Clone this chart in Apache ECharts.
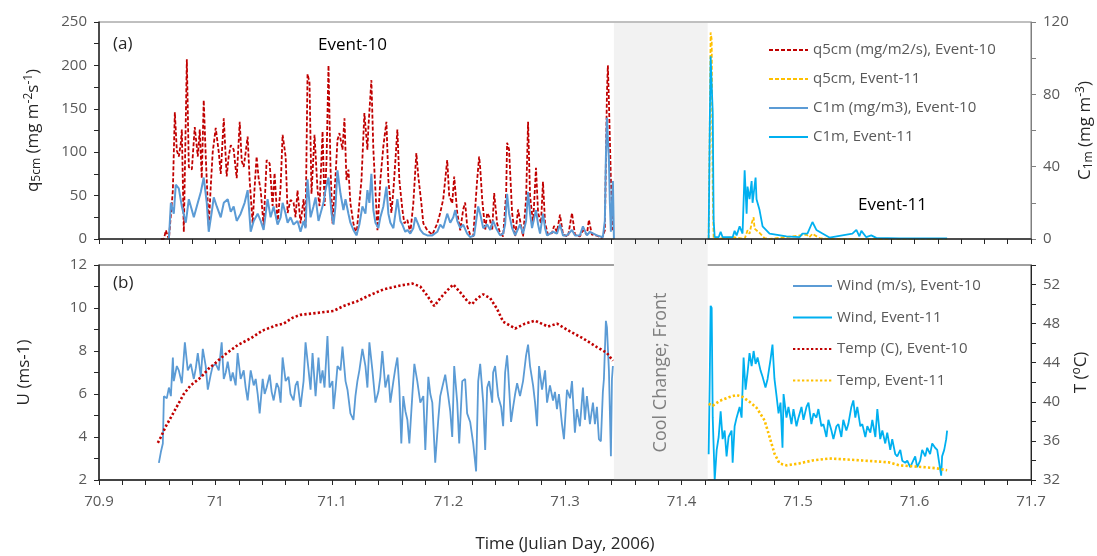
<!DOCTYPE html>
<html>
<head>
<meta charset="utf-8">
<script src="https://cdn.jsdelivr.net/npm/echarts@6/dist/echarts.min.js"></script>
<style>
  html, body { margin: 0; padding: 0; background: #fff; }
  #chart { width: 1097px; height: 556px; }
</style>
</head>
<body>
<div id="chart"></div>
<script>
// ---- data (time in Julian day, 2006) ----
const frontBand = [71.342, 71.4225];

// (a) q5cm, mg m-2 s-1 (left axis)
const q5cmE10 = [
  [70.9531,0],[70.9557,0],[70.9574,10],[70.9591,3],[70.9600,0],[70.9617,0],[70.9634,56],[70.9651,146],[70.9668,102],[70.9685,95],
  [70.9702,110],[70.9711,126],[70.9728,8],[70.9754,207],[70.9771,83],[70.9797,80],[70.9822,129],[70.9848,95],[70.9865,126],[70.9882,70],
  [70.9899,160],[70.9916,96],[70.9942,14],[70.9959,60],[70.9976,100],[71.0002,128],[71.0028,100],[71.0045,75],[71.0071,139],[71.0096,72],
  [71.0113,95],[71.0131,108],[71.0156,103],[71.0182,70],[71.0208,135],[71.0225,90],[71.0242,83],[71.0259,100],[71.0276,118],[71.0293,68],
  [71.0319,18],[71.0336,60],[71.0353,95],[71.0370,70],[71.0388,56],[71.0413,15],[71.0439,91],[71.0465,87],[71.0490,38],[71.0507,76],
  [71.0533,18],[71.0559,60],[71.0576,120],[71.0602,95],[71.0619,30],[71.0644,45],[71.0670,42],[71.0687,25],[71.0704,56],[71.0730,18],
  [71.0756,46],[71.0773,14],[71.0790,190],[71.0807,180],[71.0824,52],[71.0850,120],[71.0876,56],[71.0893,38],[71.0919,124],[71.0936,38],
  [71.0953,90],[71.0970,200],[71.0987,83],[71.1004,18],[71.1030,72],[71.1047,114],[71.1064,122],[71.1090,103],[71.1107,139],[71.1124,68],
  [71.1141,80],[71.1158,41],[71.1184,18],[71.1210,5],[71.1235,42],[71.1253,68],[71.1278,145],[71.1304,103],[71.1313,130],[71.1338,183],
  [71.1355,103],[71.1373,56],[71.1390,10],[71.1415,68],[71.1441,107],[71.1467,135],[71.1484,68],[71.1510,30],[71.1527,56],[71.1544,90],
  [71.1561,126],[71.1578,68],[71.1604,34],[71.1621,18],[71.1647,22],[71.1672,7],[71.1698,41],[71.1724,99],[71.1741,72],[71.1767,41],
  [71.1784,18],[71.1818,10],[71.1861,5],[71.1904,18],[71.1929,30],[71.1955,46],[71.1989,91],[71.2006,50],[71.2032,41],[71.2049,72],
  [71.2075,30],[71.2101,10],[71.2126,34],[71.2143,42],[71.2160,15],[71.2186,5],[71.2212,3],[71.2246,68],[71.2263,95],[71.2272,82],
  [71.2289,46],[71.2315,10],[71.2332,30],[71.2349,26],[71.2375,10],[71.2392,53],[71.2417,18],[71.2443,7],[71.2469,3],[71.2495,53],
  [71.2503,111],[71.2520,103],[71.2546,30],[71.2572,3],[71.2597,34],[71.2623,15],[71.2640,3],[71.2666,46],[71.2683,135],[71.2700,50],
  [71.2726,18],[71.2751,82],[71.2769,30],[71.2794,18],[71.2811,66],[71.2829,18],[71.2854,5],[71.2889,7],[71.2906,15],[71.2931,8],
  [71.2957,28],[71.2983,5],[71.3026,3],[71.3060,30],[71.3085,5],[71.3128,3],[71.3154,10],[71.3188,5],[71.3205,22],[71.3231,5],
  [71.3274,4],[71.3317,1],[71.3342,10],[71.3360,168],[71.3368,200],[71.3377,158],[71.3394,68],[71.3411,10]
];
const q5cmE11 = [
  [71.4233,0],[71.4242,120],[71.4250,238],[71.4259,230],[71.4268,60],[71.4276,0],[71.4456,2],[71.4542,0],[71.4567,10],[71.4584,6],
  [71.4602,18],[71.4619,25],[71.4627,12],[71.4644,14],[71.4670,7],[71.4713,1],[71.4756,0],[71.5073,5],[71.5098,2],[71.5124,6],
  [71.5184,1],[71.5270,0],[71.6280,0]
];

// (a) C1m, mg m-3 (right axis)
const c1mE10 = [
  [70.9600,0],[70.9617,20],[70.9642,14],[70.9659,30],[70.9685,28],[70.9711,18],[70.9745,9],[70.9771,22],[70.9797,16],[70.9814,12],
  [70.9848,20],[70.9874,26],[70.9899,34],[70.9925,20],[70.9942,4],[70.9968,15],[70.9985,23],[71.0011,18],[71.0045,12],[71.0071,20],
  [71.0105,22],[71.0131,15],[71.0156,18],[71.0182,10],[71.0216,14],[71.0250,20],[71.0276,27],[71.0302,4],[71.0328,10],[71.0362,14],
  [71.0388,10],[71.0413,5],[71.0447,22],[71.0473,12],[71.0499,18],[71.0533,8],[71.0559,12],[71.0576,20],[71.0602,14],[71.0619,9],
  [71.0644,12],[71.0670,8],[71.0704,10],[71.0730,4],[71.0756,10],[71.0773,6],[71.0790,33],[71.0816,12],[71.0841,18],[71.0859,23],
  [71.0884,10],[71.0901,14],[71.0927,20],[71.0944,27],[71.0970,34],[71.0996,14],[71.1013,8],[71.1030,18],[71.1047,38],[71.1073,25],
  [71.1098,16],[71.1116,22],[71.1141,14],[71.1158,9],[71.1184,5],[71.1210,2],[71.1235,8],[71.1261,18],[71.1287,14],[71.1304,27],
  [71.1321,20],[71.1338,36],[71.1355,16],[71.1373,9],[71.1398,6],[71.1415,12],[71.1441,18],[71.1467,29],[71.1484,14],[71.1501,9],
  [71.1527,6],[71.1561,22],[71.1587,10],[71.1604,8],[71.1629,4],[71.1647,5],[71.1672,3],[71.1698,6],[71.1715,12],[71.1741,8],
  [71.1758,5],[71.1784,3],[71.1818,2],[71.1861,2],[71.1904,4],[71.1929,8],[71.1955,6],[71.1989,14],[71.2015,9],[71.2041,12],
  [71.2058,16],[71.2075,10],[71.2101,6],[71.2126,8],[71.2143,7],[71.2160,3],[71.2186,1],[71.2220,2],[71.2255,18],[71.2272,14],
  [71.2298,6],[71.2332,8],[71.2358,5],[71.2383,10],[71.2409,6],[71.2443,2],[71.2469,3],[71.2486,8],[71.2503,25],[71.2520,14],
  [71.2546,6],[71.2572,2],[71.2589,1],[71.2614,8],[71.2640,3],[71.2666,10],[71.2683,26],[71.2700,14],[71.2717,6],[71.2751,16],
  [71.2769,8],[71.2786,3],[71.2811,14],[71.2829,6],[71.2846,2],[71.2871,3],[71.2897,4],[71.2931,3],[71.2957,8],[71.2983,2],
  [71.3017,2],[71.3060,5],[71.3085,2],[71.3128,2],[71.3154,7],[71.3188,2],[71.3214,4],[71.3274,2],[71.3325,1],[71.3342,10],
  [71.3351,45],[71.3360,67],[71.3368,55],[71.3377,44],[71.3385,20],[71.3394,4],[71.3403,20],[71.3411,32],[71.3420,0]
];
const c1mE11 = [
  [71.4233,0],[71.4242,60],[71.4250,101],[71.4259,100],[71.4268,70],[71.4276,10],[71.4285,1],[71.4319,1],[71.4336,4],[71.4353,1],
  [71.4439,1],[71.4456,4.5],[71.4473,2],[71.4499,7],[71.4524,3],[71.4542,38],[71.4559,14],[71.4567,29],[71.4584,22],[71.4602,32],
  [71.4610,20],[71.4636,34],[71.4644,22],[71.4670,16],[71.4696,7],[71.4756,3],[71.4901,1.5],[71.5013,1],[71.5038,3],[71.5081,3],
  [71.5124,9.4],[71.5158,5],[71.5210,3],[71.5270,0.8],[71.5467,3],[71.5501,5],[71.5527,1.5],[71.5544,4.5],[71.5586,1],[71.5629,2],
  [71.5672,0.6],[71.5869,0.4],[71.6280,0.3]
];

// (b) wind speed, m/s (left axis)
const windE10 = [
  [70.9514,2.8],[70.9531,3.3],[70.9548,3.7],[70.9557,5.9],[70.9582,5.8],[70.9600,6.3],[70.9617,5.9],[70.9634,7.7],[70.9642,6.6],[70.9668,7.3],
  [70.9685,7.1],[70.9711,6.5],[70.9737,8.4],[70.9762,7.1],[70.9788,7.4],[70.9814,6.7],[70.9831,7.2],[70.9848,7.9],[70.9874,6.8],[70.9891,8.1],
  [70.9916,7.3],[70.9934,6.2],[70.9959,6.9],[70.9976,7.3],[71.0002,7.4],[71.0028,7.1],[71.0053,8.4],[71.0071,6.7],[71.0088,7.0],[71.0105,7.5],
  [71.0131,6.6],[71.0148,7.0],[71.0173,6.4],[71.0190,7.9],[71.0216,6.7],[71.0242,7.1],[71.0259,6.3],[71.0276,5.7],[71.0302,7.1],[71.0328,6.4],
  [71.0345,6.7],[71.0362,6.0],[71.0379,5.1],[71.0405,6.7],[71.0422,6.0],[71.0439,6.3],[71.0465,6.9],[71.0482,6.1],[71.0499,5.7],[71.0525,6.5],
  [71.0542,6.3],[71.0559,5.6],[71.0576,7.7],[71.0602,6.6],[71.0627,6.8],[71.0644,6.0],[71.0670,5.7],[71.0687,6.4],[71.0704,6.6],[71.0730,5.4],
  [71.0756,6.6],[71.0773,8.4],[71.0799,7.1],[71.0816,6.2],[71.0833,7.9],[71.0859,5.9],[71.0884,7.7],[71.0901,6.5],[71.0919,7.1],[71.0936,6.3],
  [71.0961,8.7],[71.0979,6.3],[71.1004,6.6],[71.1013,5.3],[71.1030,6.2],[71.1047,7.3],[71.1073,7.1],[71.1090,8.2],[71.1116,6.6],[71.1133,6.2],
  [71.1158,5.1],[71.1184,4.8],[71.1201,5.9],[71.1218,6.6],[71.1235,7.1],[71.1261,8.1],[71.1287,7.3],[71.1304,6.3],[71.1321,8.4],[71.1347,7.1],
  [71.1373,5.6],[71.1398,6.1],[71.1415,6.8],[71.1432,8.0],[71.1458,6.3],[71.1484,6.9],[71.1501,5.6],[71.1527,6.6],[71.1544,7.2],[71.1561,7.7],
  [71.1578,6.3],[71.1595,3.7],[71.1612,5.9],[71.1630,5.2],[71.1647,4.8],[71.1664,3.7],[71.1689,5.9],[71.1707,7.4],[71.1732,6.6],[71.1758,5.6],
  [71.1784,5.9],[71.1801,3.4],[71.1827,6.8],[71.1844,6.0],[71.1861,5.6],[71.1886,2.8],[71.1912,4.8],[71.1929,5.9],[71.1946,6.3],[71.1972,6.9],
  [71.1998,5.9],[71.2015,5.2],[71.2032,4.0],[71.2049,7.3],[71.2075,5.6],[71.2092,3.7],[71.2118,6.6],[71.2143,6.7],[71.2160,5.1],[71.2186,4.7],
  [71.2212,3.7],[71.2237,2.4],[71.2255,6.6],[71.2272,7.4],[71.2298,5.6],[71.2315,3.4],[71.2332,6.3],[71.2349,6.6],[71.2375,5.6],[71.2383,7.0],
  [71.2400,7.3],[71.2426,5.9],[71.2452,5.4],[71.2469,4.5],[71.2486,7.0],[71.2503,7.8],[71.2512,7.1],[71.2537,4.7],[71.2555,5.4],[71.2572,6.0],
  [71.2589,6.5],[71.2614,5.9],[71.2640,6.6],[71.2666,7.8],[71.2683,8.3],[71.2700,7.3],[71.2726,6.4],[71.2743,5.6],[71.2760,4.5],[71.2777,7.3],
  [71.2803,6.2],[71.2829,7.1],[71.2846,5.6],[71.2871,6.4],[71.2897,5.7],[71.2914,6.1],[71.2931,5.3],[71.2948,6.0],[71.2974,4.6],[71.2991,3.9],
  [71.3017,6.2],[71.3043,5.8],[71.3060,6.6],[71.3085,4.2],[71.3102,5.3],[71.3128,4.5],[71.3154,6.3],[71.3171,4.8],[71.3188,5.9],[71.3214,4.6],
  [71.3240,5.6],[71.3257,4.6],[71.3274,5.4],[71.3291,3.9],[71.3308,3.8],[71.3325,6.1],[71.3334,6.7],[71.3351,9.4],[71.3360,9.1],[71.3377,7.1],
  [71.3394,3.1],[71.3403,6.7],[71.3411,7.3]
];
const windE11 = [
  [71.4233,3.2],[71.4242,6.5],[71.4250,10.1],[71.4259,10.0],[71.4268,4.9],[71.4285,2.0],[71.4302,3.4],[71.4319,4.0],[71.4336,5.2],[71.4353,3.9],
  [71.4370,4.3],[71.4387,3.1],[71.4404,4.0],[71.4430,4.3],[71.4439,2.8],[71.4456,4.5],[71.4473,4.9],[71.4499,5.4],[71.4516,4.9],[71.4533,7.7],
  [71.4550,6.2],[71.4567,7.0],[71.4584,7.9],[71.4602,7.3],[71.4619,8.0],[71.4636,7.4],[71.4653,7.7],[71.4678,7.1],[71.4696,6.8],[71.4721,6.3],
  [71.4739,6.7],[71.4764,7.6],[71.4781,8.3],[71.4798,6.7],[71.4816,5.9],[71.4833,5.1],[71.4850,5.6],[71.4867,3.5],[71.4876,6.0],[71.4901,4.9],
  [71.4918,5.4],[71.4944,4.6],[71.4961,5.3],[71.4987,4.5],[71.5004,4.9],[71.5030,5.4],[71.5047,4.8],[71.5073,5.4],[71.5090,5.6],[71.5115,4.6],
  [71.5133,5.1],[71.5158,4.9],[71.5175,5.3],[71.5201,4.5],[71.5218,4.6],[71.5244,4.0],[71.5261,4.8],[71.5287,4.3],[71.5304,3.9],[71.5330,4.5],
  [71.5347,4.6],[71.5372,4.0],[71.5389,4.8],[71.5415,4.3],[71.5432,4.6],[71.5458,5.4],[71.5475,5.7],[71.5492,4.9],[71.5509,5.4],[71.5535,4.5],
  [71.5552,4.6],[71.5578,4.0],[71.5595,4.5],[71.5621,4.2],[71.5638,4.8],[71.5664,4.0],[71.5681,5.3],[71.5706,3.9],[71.5724,4.3],[71.5749,3.7],
  [71.5766,4.2],[71.5792,3.4],[71.5809,3.9],[71.5835,3.2],[71.5852,3.1],[71.5878,3.4],[71.5895,2.9],[71.5921,2.8],[71.5938,2.9],[71.5963,2.6],
  [71.5980,2.8],[71.6006,3.1],[71.6023,2.6],[71.6049,2.9],[71.6066,3.4],[71.6092,3.1],[71.6109,3.5],[71.6134,3.2],[71.6152,3.7],[71.6177,3.5],
  [71.6195,3.4],[71.6212,2.8],[71.6229,2.2],[71.6237,3.1],[71.6255,3.4],[71.6272,3.9],[71.6280,4.3]
];

// (b) temperature, degC (right axis)
const tempE10 = [
  [70.9505,35.8],[70.9531,36.4],[70.9574,37.5],[70.9617,38.4],[70.9677,39.7],[70.9728,40.8],[70.9788,41.7],[70.9874,42.5],[70.9942,43.4],[71.0002,44.0],
  [71.0088,44.9],[71.0190,45.8],[71.0302,46.5],[71.0405,47.3],[71.0516,47.8],[71.0584,48.0],[71.0662,48.6],[71.0730,48.9],[71.0876,49.1],[71.1013,49.3],
  [71.1098,49.8],[71.1218,50.3],[71.1304,50.8],[71.1441,51.5],[71.1587,51.9],[71.1689,52.1],[71.1758,51.8],[71.1809,51.0],[71.1878,49.8],[71.1929,50.6],
  [71.1989,51.4],[71.2041,52.0],[71.2101,51.2],[71.2169,50.2],[71.2203,50.0],[71.2246,50.6],[71.2298,51.0],[71.2358,50.6],[71.2417,49.5],[71.2469,48.2],
  [71.2572,47.5],[71.2657,48.0],[71.2743,48.3],[71.2854,47.7],[71.2931,48.0],[71.3043,47.2],[71.3154,46.5],[71.3274,45.6],[71.3360,45.0],[71.3411,44.2]
];
const tempE11 = [
  [71.4233,39.8],[71.4268,39.6],[71.4328,40.1],[71.4413,40.5],[71.4473,40.7],[71.4524,40.5],[71.4584,40.0],[71.4644,39.4],[71.4713,38.1],[71.4756,36.4],
  [71.4798,34.7],[71.4841,33.7],[71.4901,33.5],[71.5013,33.7],[71.5124,34.0],[71.5270,34.2],[71.5415,34.1],[71.5552,34.0],[71.5672,33.9],[71.5783,33.8],
  [71.5869,33.5],[71.5980,33.4],[71.6100,33.3],[71.6186,33.2],[71.6280,33.0]
];

const topNames = ['q5cm (mg/m2/s), Event-10', 'q5cm, Event-11', 'C1m (mg/m3), Event-10', 'C1m, Event-11'];
const bottomNames = ['Wind (m/s), Event-10', 'Wind, Event-11', 'Temp (C), Event-10', 'Temp, Event-11'];

const FONT = '"Open Sans", "Noto Sans", sans-serif';
const GREY = '#595959';
const RED = '#C00000', GOLD = '#FFC000', BLUE = '#5B9BD5', CYAN = '#00B0F0';

const chart = echarts.init(document.getElementById('chart'));

function xAxisBase(gridIndex, showLabel) {
  return {
    type: 'value', gridIndex: gridIndex, min: 70.9, max: 71.7, interval: 0.02, z: 5,
    axisLine: { show: true, onZero: false, lineStyle: { color: '#262626', width: 1.5 } },
    axisTick: { show: true, length: 5, lineStyle: { color: '#262626' } },
    splitLine: { show: false },
    axisLabel: {
      show: showLabel, margin: 14, color: GREY, fontSize: 15, fontFamily: FONT,
      formatter: function (v) {
        const r = Math.round(v * 10);
        return Math.abs(v * 10 - r) < 1e-6 ? String(r / 10) : '';
      }
    }
  };
}

function yAxisBase(gridIndex, pos, min, max, interval, labelStep, lineColor) {
  return {
    type: 'value', gridIndex: gridIndex, position: pos, min: min, max: max, interval: interval, z: 5,
    axisLine: { show: true, lineStyle: { color: lineColor, width: pos === 'left' ? 1.5 : 1 } },
    axisTick: { show: true, length: 5, lineStyle: { color: lineColor } },
    splitLine: { show: false },
    axisLabel: {
      margin: 12, color: GREY, fontSize: 15, fontFamily: FONT,
      formatter: function (v) {
        const k = Math.round((v - min) / labelStep);
        return Math.abs((v - min) - k * labelStep) < 1e-6 && v < max - 1e-6 + (k * labelStep === max - min ? 1 : 0) ? String(v) : '';
      }
    },
    nameLocation: 'middle', nameRotate: 90, nameMoveOverlap: false,
    nameTextStyle: { color: '#262626', fontSize: 17, fontFamily: FONT }
  };
}

const subRich = {
  sub: { fontSize: 12, fontFamily: FONT, color: '#262626', verticalAlign: 'bottom', padding: [8, 0, 0, 0] },
  sup: { fontSize: 12, fontFamily: FONT, color: '#262626', verticalAlign: 'top', padding: [0, 0, 8, 0] }
};

const yTopLeft = yAxisBase(0, 'left', 0, 250, 25, 50, '#262626');
yTopLeft.name = 'q{sub|5cm} (mg m{sup|-2}s{sup|-1})';
yTopLeft.nameGap = 56;
yTopLeft.nameTextStyle.rich = subRich;

const yTopRight = yAxisBase(0, 'right', 0, 120, 20, 40, '#7f7f7f');
yTopRight.name = 'C{sub|1m} (mg m{sup|-3})';
yTopRight.nameGap = 44;
yTopRight.nameTextStyle.rich = subRich;

const yBotLeft = yAxisBase(1, 'left', 2, 12, 1, 2, '#262626');
yBotLeft.name = 'U (ms-1)';
yBotLeft.nameGap = 66;

const yBotRight = yAxisBase(1, 'right', 32, 54, 2, 4, '#262626');
yBotRight.name = 'T ({sup|o}C)';
yBotRight.nameGap = 40;
yBotRight.nameTextStyle.rich = subRich;

const xBottom = xAxisBase(1, true);
xBottom.name = 'Time (Julian Day, 2006)';
xBottom.nameLocation = 'middle';
xBottom.nameGap = 56;
xBottom.nameMoveOverlap = false;
xBottom.nameTextStyle = { color: '#262626', fontSize: 17, fontFamily: FONT };

function lineSeries(name, data, xi, yi, color, width, type, extra) {
  return Object.assign({
    name: name, type: 'line', data: data, xAxisIndex: xi, yAxisIndex: yi,
    symbol: 'none', showSymbol: false, smooth: false, z: 2,
    lineStyle: { color: color, width: width, type: type, cap: 'butt' },
    itemStyle: { color: color },
    emphasis: { disabled: true }
  }, extra || {});
}

const legendText = { color: GREY, fontSize: 15, fontFamily: FONT, lineHeight: 16 };

chart.setOption({
  animation: false,
  backgroundColor: '#ffffff',
  textStyle: { fontFamily: FONT },
  grid: [
    { left: 99, right: 66, top: 22, height: 217, show: true, borderColor: '#808080', borderWidth: 1, backgroundColor: 'transparent', outerBoundsMode: 'none', containLabel: false },
    { left: 99, right: 66, top: 265, height: 215, show: true, borderColor: '#404040', borderWidth: 1, backgroundColor: 'transparent', outerBoundsMode: 'none', containLabel: false },
    { left: 99, right: 66, top: 23, height: 457, show: false, outerBoundsMode: 'none', containLabel: false }
  ],
  xAxis: [
    xAxisBase(0, false),
    xBottom,
    { type: 'value', gridIndex: 2, min: 70.9, max: 71.7, show: false }
  ],
  yAxis: [
    yTopLeft, yTopRight, yBotLeft, yBotRight,
    { type: 'value', gridIndex: 2, min: 0, max: 1, show: false }
  ],
  legend: [
    {
      data: topNames, orient: 'vertical', left: 763, top: 37, itemWidth: 39, itemHeight: 14, itemGap: 13,
      itemStyle: { opacity: 0 }, textStyle: legendText, selectedMode: false
    },
    {
      data: bottomNames, orient: 'vertical', left: 787, top: 273, itemWidth: 39, itemHeight: 14, itemGap: 15.5,
      itemStyle: { opacity: 0 }, textStyle: legendText, selectedMode: false
    }
  ],
  graphic: [
    { type: 'text', left: 113, top: 36, style: { text: '(a)', fontSize: 17, fontFamily: FONT, fill: '#262626' } },
    { type: 'text', left: 318, top: 37, style: { text: 'Event-10', fontSize: 17, fontFamily: FONT, fill: '#000' } },
    { type: 'text', left: 858, top: 197, style: { text: 'Event-11', fontSize: 17, fontFamily: FONT, fill: '#000' } },
    { type: 'text', left: 113, top: 275, style: { text: '(b)', fontSize: 17, fontFamily: FONT, fill: '#262626' } }
  ],
  series: [
    {
      name: 'front', type: 'line', data: [], xAxisIndex: 2, yAxisIndex: 4, z: 1, silent: true,
      markArea: {
        silent: true, itemStyle: { color: '#F2F2F2' },
        data: [[{ xAxis: frontBand[0] }, { xAxis: frontBand[1] }]]
      }
    },
    lineSeries(topNames[0], q5cmE10, 0, 0, RED, 1.8, [4, 2]),
    lineSeries(topNames[1], q5cmE11, 0, 0, GOLD, 1.8, [4, 2]),
    lineSeries(topNames[2], c1mE10, 0, 1, BLUE, 2, 'solid'),
    lineSeries(topNames[3], c1mE11, 0, 1, CYAN, 1.8, 'solid'),
    lineSeries(bottomNames[0], windE10, 1, 2, BLUE, 1.8, 'solid', {
      markArea: {
        silent: true, itemStyle: { color: 'rgba(0,0,0,0)' },
        label: { show: true, position: 'inside', rotate: 90, color: '#7f7f7f', fontSize: 18, fontFamily: FONT },
        data: [[{ name: 'Cool Change; Front', xAxis: frontBand[0] }, { xAxis: frontBand[1] }]]
      }
    }),
    lineSeries(bottomNames[1], windE11, 1, 2, CYAN, 1.8, 'solid'),
    lineSeries(bottomNames[2], tempE10, 1, 3, RED, 2.6, [2.3, 2.2]),
    lineSeries(bottomNames[3], tempE11, 1, 3, GOLD, 2.6, [2.3, 2.2])
  ]
});
</script>
</body>
</html>
